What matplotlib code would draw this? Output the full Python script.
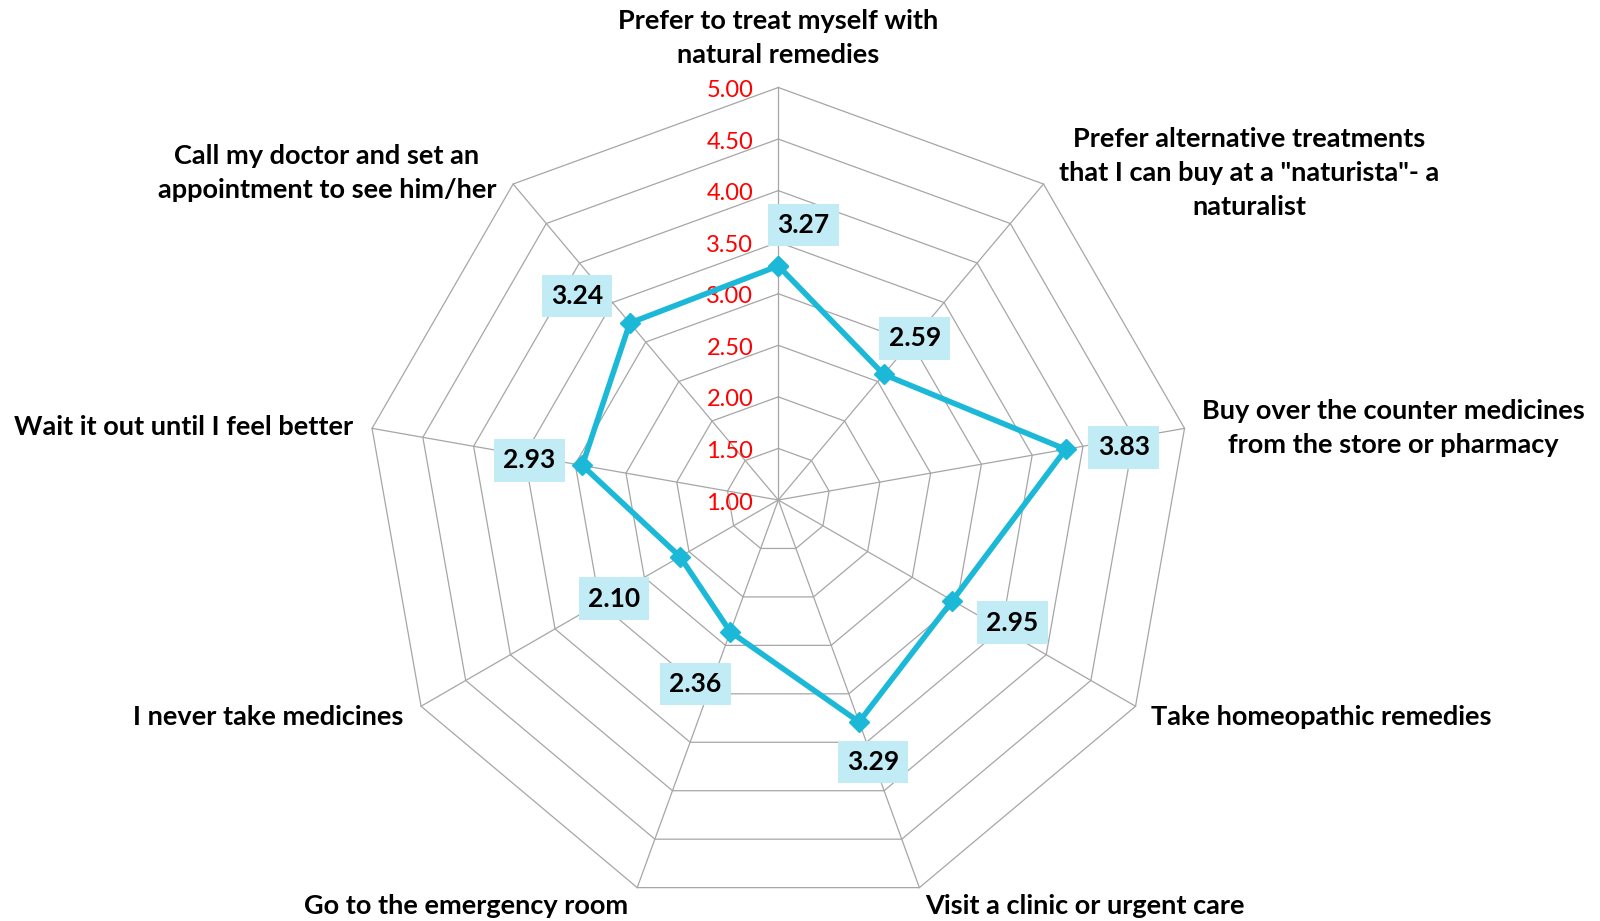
import numpy as np
import matplotlib
matplotlib.use("Agg")
import matplotlib.pyplot as plt

plt.rcParams['font.family'] = ['Lato', 'DejaVu Sans']

categories = [
    "Prefer to treat myself with\nnatural remedies",
    "Prefer alternative treatments\nthat I can buy at a \"naturista\"- a\nnaturalist",
    "Buy over the counter medicines\nfrom the store or pharmacy",
    "Take homeopathic remedies",
    "Visit a clinic or urgent care",
    "Go to the emergency room",
    "I never take medicines",
    "Wait it out until I feel better",
    "Call my doctor and set an\nappointment to see him/her",
]
values = [3.27, 2.59, 3.83, 2.95, 3.29, 2.36, 2.10, 2.93, 3.24]
tick_values = [1.00, 1.50, 2.00, 2.50, 3.00, 3.50, 4.00, 4.50, 5.00]

# layout (pixel positions of category labels, data-label offsets)
W, H = 1600, 921
label_pos = [(778, 38), (1249, 173), (1393, 428), (1321, 717), (1085, 906),
             (466, 906), (268, 717), (184, 427), (327, 173)]
dl_offsets = [(25, 41), (31, 36), (58, 2), (60, -22), (14, -40),
              (-35, -52), (-66, -42), (-53, 5), (-53, 27)]

line_color = "#1BB9D7"
box_color = "#C2ECF5"
grid_color = "#A6A6A6"

fig = plt.figure(figsize=(W / 100, H / 100), dpi=100)
cx, cy, R = 778.3, 500.0, 412.5
rect = [(cx - R) / W, (H - cy - R) / H, 2 * R / W, 2 * R / H]
ax = fig.add_axes(rect, projection='polar')
ax.set_theta_zero_location('N')
ax.set_theta_direction(-1)
ax.set_ylim(tick_values[0], tick_values[-1])
ax.grid(False)
ax.spines['polar'].set_visible(False)
ax.set_xticks([])
ax.set_yticks([])
ax.patch.set_visible(False)

n = len(categories)
angles = np.arange(n) * 2 * np.pi / n
ang_closed = np.append(angles, angles[0])

for r in tick_values[1:]:
    ax.plot(ang_closed, [r] * (n + 1), color=grid_color, lw=0.9, clip_on=False, zorder=1)
for a in angles:
    ax.plot([a, a], [tick_values[0], tick_values[-1]], color=grid_color, lw=0.9,
            clip_on=False, zorder=1)

vals_closed = values + values[:1]
ax.plot(ang_closed, vals_closed, color=line_color, lw=4.0, marker='D', markersize=10,
        clip_on=False, zorder=3)

for a, v, off in zip(angles, values, dl_offsets):
    ax.annotate(f"{v:.2f}", xy=(a, v), xytext=off, textcoords='offset pixels',
                ha='center', va='center', fontsize=19, fontweight='bold', color='black',
                bbox=dict(boxstyle='square,pad=0.35', fc=box_color, ec='none'), zorder=4)

for t in tick_values:
    ax.annotate(f"{t:.2f}", xy=(0, t), xytext=(-25, -3), textcoords='offset pixels',
                ha='right', va='center', fontsize=17, color='red', zorder=2)

for txt, (px, py) in zip(categories, label_pos):
    fig.text(px / W, 1 - py / H, txt, ha='center', va='center', multialignment='center',
             fontsize=19.5, fontweight='bold', color='black', linespacing=1.5)

fig.savefig("out.png", dpi=100)
